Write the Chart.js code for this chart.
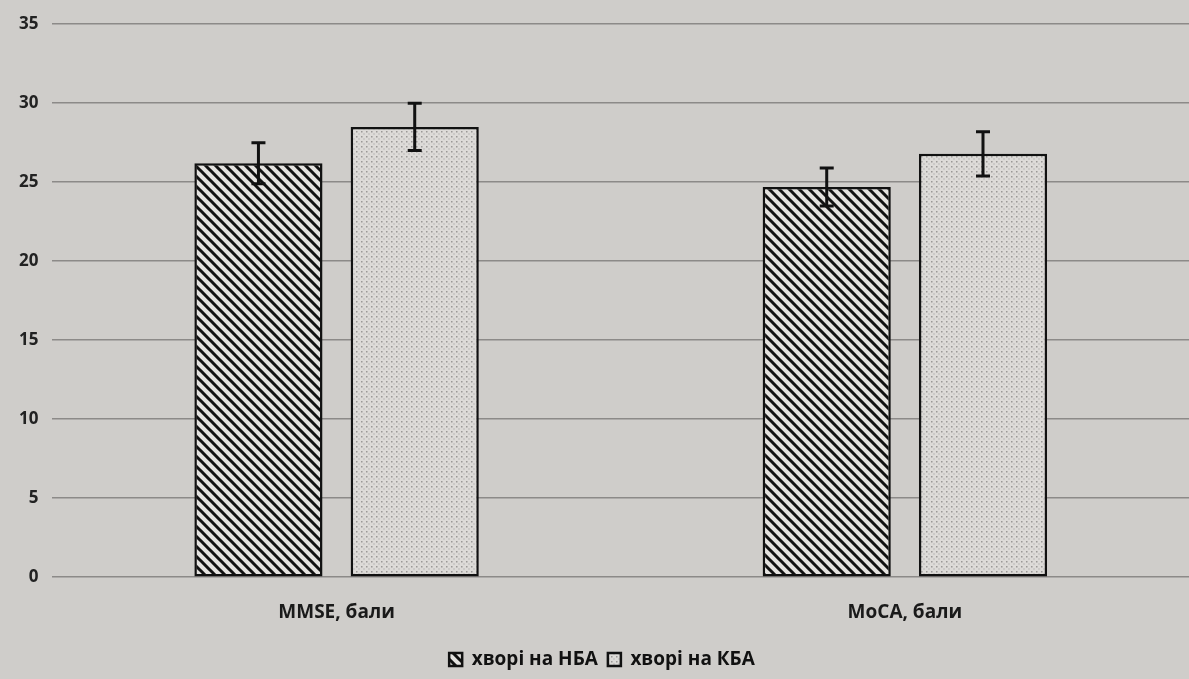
<!DOCTYPE html>
<html lang="uk">
<head>
  <meta charset="UTF-8">
  <title>MMSE / MoCA</title>
  <script src="https://cdn.jsdelivr.net/npm/chart.js"></script>
  <style>
    body {
      margin: 0;
      background: #cfcdca;
    }
    #wrap {
      width: 1189px;
      height: 679px;
    }
  </style>
</head>
<body>
  <div id="wrap"><canvas id="chart" width="1189" height="679"></canvas></div>

  <script>
    const categories = ['MMSE, бали', 'MoCA, бали'];
    const seriesNames = ['хворі на НБА', 'хворі на КБА'];
    // per series, one value per category
    const nba = [26.2, 24.7];
    const kba = [28.5, 26.8];
    // error bars (±)
    const nbaErr = [1.3, 1.2];
    const kbaErr = [1.5, 1.4];

    function hatchPattern() {
      const c = document.createElement('canvas');
      c.width = 10; c.height = 10;
      const g = c.getContext('2d');
      g.fillStyle = '#e4e2df';
      g.fillRect(0, 0, 10, 10);
      g.strokeStyle = '#111';
      g.lineWidth = 3;
      g.beginPath();
      g.moveTo(-5, -5); g.lineTo(15, 15);
      g.moveTo(-5, 5); g.lineTo(5, 15);
      g.moveTo(5, -5); g.lineTo(15, 5);
      g.stroke();
      return g.createPattern(c, 'repeat');
    }

    function dotPattern() {
      const c = document.createElement('canvas');
      c.width = 5; c.height = 5;
      const g = c.getContext('2d');
      g.fillStyle = '#dddbd8';
      g.fillRect(0, 0, 5, 5);
      g.fillStyle = '#9a9896';
      g.fillRect(1, 1, 1.5, 1.5);
      g.fillRect(3.5, 3.5, 1, 1);
      return g.createPattern(c, 'repeat');
    }

    const errorBars = {
      id: 'errorBars',
      afterDatasetsDraw(chart) {
        const ctx = chart.ctx;
        const y = chart.scales.y;
        const errs = [nbaErr, kbaErr];
        ctx.save();
        ctx.strokeStyle = '#111';
        ctx.lineWidth = 3;
        chart.data.datasets.forEach((ds, di) => {
          chart.getDatasetMeta(di).data.forEach((bar, i) => {
            const v = ds.data[i];
            const top = y.getPixelForValue(v + errs[di][i]);
            const bot = y.getPixelForValue(v - errs[di][i]);
            ctx.beginPath();
            ctx.moveTo(bar.x, top); ctx.lineTo(bar.x, bot);
            ctx.moveTo(bar.x - 7, top); ctx.lineTo(bar.x + 7, top);
            ctx.moveTo(bar.x - 7, bot); ctx.lineTo(bar.x + 7, bot);
            ctx.stroke();
          });
        });
        ctx.restore();
      }
    };

    const fontFam = "'Open Sans', sans-serif";

    new Chart(document.getElementById('chart'), {
      type: 'bar',
      data: {
        labels: categories,
        datasets: [{
          label: seriesNames[0],
          data: nba,
          backgroundColor: hatchPattern(),
          borderColor: '#111',
          borderWidth: 2.5,
          borderSkipped: false
        }, {
          label: seriesNames[1],
          data: kba,
          backgroundColor: dotPattern(),
          borderColor: '#111',
          borderWidth: 2.5,
          borderSkipped: false
        }]
      },
      options: {
        responsive: false,
        animation: false,
        layout: { padding: { top: 14, right: -10, left: 5, bottom: 0 } },
        datasets: {
          bar: { categoryPercentage: 0.55, barPercentage: 0.82 }
        },
        scales: {
          x: {
            grid: { display: false },
            border: { display: false },
            ticks: {
              color: '#1a1a1a',
              padding: 16,
              font: { family: fontFam, size: 19, weight: 'bold' }
            }
          },
          y: {
            min: 0,
            max: 35,
            ticks: {
              stepSize: 5,
              color: '#222',
              padding: 14,
              font: { family: fontFam, size: 17, weight: 'bold' }
            },
            grid: { color: '#8c8a88', lineWidth: 1.5, drawTicks: false },
            border: { display: false }
          }
        },
        plugins: {
          legend: {
            position: 'bottom',
            labels: {
              color: '#111',
              boxWidth: 13,
              boxHeight: 13,
              padding: 10,
              font: { family: fontFam, size: 19, weight: 'bold' }
            }
          },
          tooltip: { enabled: false }
        }
      },
      plugins: [errorBars]
    });
  </script>
</body>
</html>
